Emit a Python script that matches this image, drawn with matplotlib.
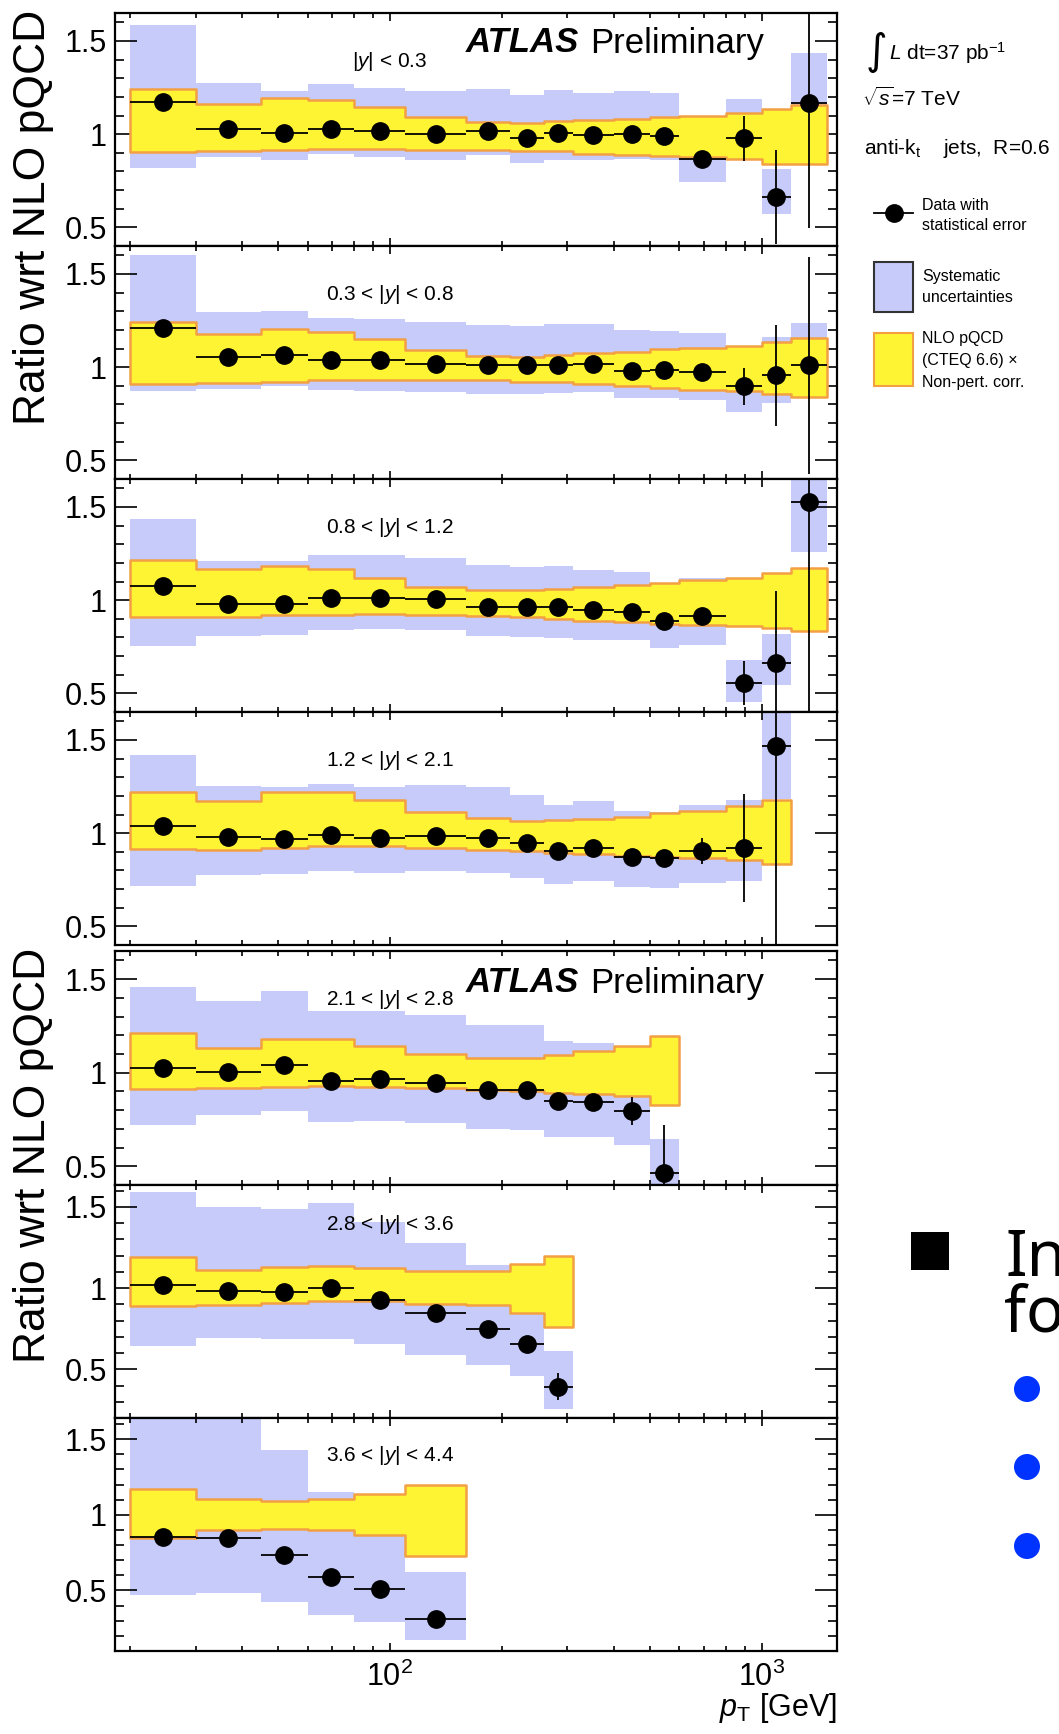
import numpy as np
import matplotlib
matplotlib.use('Agg')
import matplotlib.pyplot as plt
from matplotlib.patches import Rectangle, Ellipse
from matplotlib.ticker import FixedLocator, FixedFormatter, MultipleLocator, NullFormatter, LogLocator

plt.rcParams['font.family'] = ['Liberation Sans', 'DejaVu Sans']
plt.rcParams['mathtext.fontset'] = 'custom'
plt.rcParams['mathtext.rm'] = 'Liberation Sans'
plt.rcParams['mathtext.it'] = 'Liberation Sans:italic'
plt.rcParams['mathtext.bf'] = 'Liberation Sans:bold'

# pT bin edges [GeV]
edges = [20, 30, 45, 60, 80, 110, 160, 210, 260, 310, 400, 500, 600, 800, 1000, 1200, 1500]

labels = ['|$y$| < 0.3', '0.3 < |$y$| < 0.8', '0.8 < |$y$| < 1.2', '1.2 < |$y$| < 2.1',
          '2.1 < |$y$| < 2.8', '2.8 < |$y$| < 3.6', '3.6 < |$y$| < 4.4']

# |y| < 0.3
ratio_1 = [1.17, 1.03, 1.005, 1.03, 1.018, 1.0, 1.018, 0.982, 1.005, 0.995, 1.0, 0.991, 0.866, 0.977, 0.663, 1.165]
stat_1 = [0.01] * 11 + [0.015, 0.02, 0.12, 0.25, 0.67]
sys_lo_1 = [0.821, 0.875, 0.86, 0.892, 0.875, 0.862, 0.887, 0.844, 0.862, 0.86, 0.866, 0.86, 0.744, 0.88, 0.57, 0.9]
sys_hi_1 = [1.588, 1.272, 1.233, 1.269, 1.246, 1.233, 1.242, 1.21, 1.237, 1.219, 1.233, 1.219, 0.99, 1.19, 0.812, 1.435]
nlo_lo_1 = [0.905, 0.91, 0.916, 0.919, 0.923, 0.916, 0.916, 0.91, 0.907, 0.896, 0.889, 0.884, 0.875, 0.866, 0.842, 0.839]
nlo_hi_1 = [1.242, 1.161, 1.194, 1.185, 1.147, 1.09, 1.063, 1.061, 1.068, 1.077, 1.081, 1.09, 1.099, 1.116, 1.134, 1.158]

# 0.3 < |y| < 0.8
ratio_2 = [1.208, 1.053, 1.066, 1.039, 1.039, 1.018, 1.012, 1.009, 1.012, 1.016, 0.982, 0.986, 0.973, 0.897, 0.956, 1.009]
stat_2 = [0.01] * 12 + [0.02, 0.1, 0.27, 0.58]
sys_lo_2 = [0.87, 0.883, 0.897, 0.875, 0.87, 0.865, 0.856, 0.856, 0.861, 0.865, 0.835, 0.835, 0.826, 0.76, 0.808, 0.85]
sys_hi_2 = [1.6, 1.294, 1.30, 1.262, 1.256, 1.24, 1.226, 1.221, 1.231, 1.231, 1.2, 1.194, 1.181, 1.03, 1.164, 1.235]
nlo_lo_2 = [0.909, 0.915, 0.923, 0.929, 0.932, 0.932, 0.929, 0.923, 0.92, 0.911, 0.9, 0.888, 0.879, 0.874, 0.858, 0.84]
nlo_hi_2 = [1.24, 1.176, 1.205, 1.187, 1.149, 1.093, 1.062, 1.057, 1.066, 1.075, 1.084, 1.096, 1.105, 1.114, 1.137, 1.155]

# 0.8 < |y| < 1.2
ratio_3 = [1.077, 0.982, 0.982, 1.009, 1.009, 1.005, 0.964, 0.961, 0.964, 0.948, 0.938, 0.889, 0.916, 0.556, 0.661, 1.526]
stat_3 = [0.01] * 11 + [0.02, 0.02, 0.12, 0.39, 1.2]
sys_lo_3 = [0.756, 0.806, 0.815, 0.841, 0.845, 0.84, 0.806, 0.8, 0.797, 0.788, 0.788, 0.743, 0.761, 0.456, 0.547, 1.26]
sys_hi_3 = [1.433, 1.21, 1.21, 1.242, 1.242, 1.228, 1.189, 1.178, 1.184, 1.16, 1.152, 1.03, 1.121, 0.681, 0.818, 1.7]
nlo_lo_3 = [0.911, 0.911, 0.92, 0.922, 0.925, 0.922, 0.913, 0.907, 0.898, 0.889, 0.884, 0.872, 0.868, 0.859, 0.848, 0.836]
nlo_hi_3 = [1.216, 1.166, 1.184, 1.166, 1.121, 1.068, 1.055, 1.055, 1.062, 1.068, 1.08, 1.094, 1.109, 1.121, 1.148, 1.171]

# 1.2 < |y| < 2.1
ratio_4 = [1.036, 0.977, 0.97, 0.988, 0.973, 0.986, 0.973, 0.946, 0.902, 0.92, 0.871, 0.866, 0.902, 0.92, 1.47]
stat_4 = [0.01] * 12 + [0.07, 0.29, 1.1]
sys_lo_4 = [0.714, 0.777, 0.782, 0.795, 0.786, 0.795, 0.786, 0.759, 0.729, 0.741, 0.709, 0.705, 0.732, 0.745, 1.182]
sys_hi_4 = [1.42, 1.254, 1.245, 1.264, 1.245, 1.259, 1.245, 1.205, 1.152, 1.173, 1.12, 1.116, 1.152, 1.179, 1.7]
nlo_lo_4 = [0.914, 0.911, 0.923, 0.929, 0.929, 0.92, 0.907, 0.902, 0.893, 0.888, 0.879, 0.871, 0.866, 0.857, 0.834]
nlo_hi_4 = [1.223, 1.175, 1.223, 1.22, 1.179, 1.116, 1.08, 1.066, 1.071, 1.075, 1.089, 1.107, 1.12, 1.146, 1.179]

# 2.1 < |y| < 2.8
ratio_5 = [1.027, 1.005, 1.041, 0.955, 0.968, 0.946, 0.907, 0.907, 0.848, 0.844, 0.794, 0.463]
stat_5 = [0.01] * 10 + [0.075, 0.26]
sys_lo_5 = [0.723, 0.773, 0.794, 0.735, 0.741, 0.732, 0.701, 0.696, 0.657, 0.657, 0.615, 0.3]
sys_hi_5 = [1.46, 1.385, 1.435, 1.331, 1.331, 1.308, 1.254, 1.254, 1.17, 1.161, 1.0, 0.646]
nlo_lo_5 = [0.911, 0.916, 0.923, 0.928, 0.923, 0.916, 0.907, 0.902, 0.889, 0.884, 0.875, 0.825]
nlo_hi_5 = [1.211, 1.134, 1.182, 1.182, 1.143, 1.098, 1.08, 1.08, 1.095, 1.116, 1.143, 1.197]

# 2.8 < |y| < 3.6
ratio_6 = [1.017, 0.985, 0.979, 1.0, 0.927, 0.844, 0.751, 0.658, 0.394]
stat_6 = [0.01] * 8 + [0.085]
sys_lo_6 = [0.643, 0.695, 0.689, 0.689, 0.654, 0.591, 0.529, 0.461, 0.257]
sys_hi_6 = [1.591, 1.502, 1.488, 1.523, 1.409, 1.276, 1.145, 0.86, 0.61]
nlo_lo_6 = [0.892, 0.896, 0.911, 0.921, 0.923, 0.902, 0.896, 0.849, 0.761]
nlo_hi_6 = [1.191, 1.11, 1.131, 1.139, 1.124, 1.104, 1.104, 1.149, 1.197]

# 3.6 < |y| < 4.4
ratio_7 = [0.852, 0.848, 0.736, 0.591, 0.512, 0.311]
stat_7 = [0.01] * 6
sys_lo_7 = [0.468, 0.483, 0.423, 0.34, 0.293, 0.172]
sys_hi_7 = [1.7, 1.7, 1.43, 1.15, 1.1, 0.62]
nlo_lo_7 = [0.848, 0.899, 0.904, 0.897, 0.864, 0.729]
nlo_hi_7 = [1.172, 1.105, 1.089, 1.105, 1.139, 1.2]

ylims = [(0.4, 1.65)] * 5 + [(0.2, 1.635), (0.1, 1.64)]

panels = [
    (ratio_1, stat_1, sys_lo_1, sys_hi_1, nlo_lo_1, nlo_hi_1),
    (ratio_2, stat_2, sys_lo_2, sys_hi_2, nlo_lo_2, nlo_hi_2),
    (ratio_3, stat_3, sys_lo_3, sys_hi_3, nlo_lo_3, nlo_hi_3),
    (ratio_4, stat_4, sys_lo_4, sys_hi_4, nlo_lo_4, nlo_hi_4),
    (ratio_5, stat_5, sys_lo_5, sys_hi_5, nlo_lo_5, nlo_hi_5),
    (ratio_6, stat_6, sys_lo_6, sys_hi_6, nlo_lo_6, nlo_hi_6),
    (ratio_7, stat_7, sys_lo_7, sys_hi_7, nlo_lo_7, nlo_hi_7),
]

BLUE = '#c6cbf9'
YELLOW = '#fff433'
ORANGE = '#f2a043'

W, H = 1059, 1734
fig = plt.figure(figsize=(W / 100, H / 100), dpi=100)

# panel frames in pixels (top, bottom)
left_px, right_px = 115, 837
panel_px = [(13, 246), (246, 479), (479, 712), (712, 945), (951, 1185), (1185, 1418), (1418, 1651)]

for i, (t, b) in enumerate(panel_px):
    ax = fig.add_axes([left_px / W, 1 - b / H, (right_px - left_px) / W, (b - t) / H])
    ratio, stat, slo, shi, nlo, nhi = [np.array(v, dtype=float) for v in panels[i]]
    n = len(ratio)
    e = np.array(edges[:n + 1], dtype=float)
    ctr = np.sqrt(e[:-1] * e[1:])

    ax.fill_between(e, np.append(slo, slo[-1]), np.append(shi, shi[-1]), step='post',
                    color=BLUE, lw=0, zorder=1)
    ax.fill_between(e, np.append(nlo, nlo[-1]), np.append(nhi, nhi[-1]), step='post',
                    facecolor=YELLOW, edgecolor=ORANGE, lw=1.8, zorder=2)
    ax.errorbar(ctr, ratio, yerr=stat, xerr=[ctr - e[:-1], e[1:] - ctr], fmt='o',
                color='black', ms=12.5, elinewidth=1.3, capsize=0, zorder=3)

    ax.set_xscale('log')
    ax.set_xlim(18.2, 1595)
    ax.set_ylim(*ylims[i])
    ax.yaxis.set_major_locator(FixedLocator([0.5, 1.0, 1.5]))
    ax.yaxis.set_major_formatter(FixedFormatter(['0.5', '1', '1.5']))
    ax.yaxis.set_minor_locator(MultipleLocator(0.1))
    ax.xaxis.set_minor_locator(LogLocator(base=10, subs=np.arange(2, 10)))
    ax.xaxis.set_minor_formatter(NullFormatter())
    ax.tick_params(which='both', direction='in', top=True, right=True, width=1.2)
    ax.tick_params(axis='y', which='major', length=16, labelsize=22, pad=6)
    ax.tick_params(axis='y', which='minor', length=6.5)
    ax.tick_params(axis='x', which='major', length=6, labelsize=22, pad=8)
    ax.tick_params(axis='x', which='minor', length=3.5)
    if i != len(panel_px) - 1:
        ax.tick_params(axis='x', labelbottom=False)
    for s in ax.spines.values():
        s.set_linewidth(1.6)
    ax.text(100, 1.39, labels[i], ha='center', va='center', fontsize=15, zorder=5)

# overlay in pixel coordinates for the free text and legend
ov = fig.add_axes([0, 0, 1, 1])
ov.set_xlim(0, W)
ov.set_ylim(H, 0)
ov.axis('off')

for yc in (217, 1155):
    ov.text(34, yc, 'Ratio wrt NLO pQCD', rotation=90, ha='center', va='center', fontsize=32)

for yc in (43, 983):
    ov.text(466, yc, 'ATLAS', fontsize=25, fontweight='bold', fontstyle='italic', va='center')
    ov.text(590, yc, 'Preliminary', fontsize=25, va='center')

ov.text(837, 1708, r'$p_{\rm T}$ [GeV]', ha='right', va='center', fontsize=22)

# legend / info block
ov.text(866, 52, '\u222b', fontsize=30, va='center', family=['DejaVu Sans'])
ov.text(889, 53, r'$L$ dt=37 pb$^{-1}$', fontsize=15, va='center')
ov.text(862, 98, r'$\sqrt{s}$=7 TeV', fontsize=15, va='center')
ov.text(864, 148, r'anti-k$_{\rm t}$    jets,  R=0.6', fontsize=15, va='center')

ov.plot([874, 913], [213, 213], color='black', lw=1.3)
ov.plot([893.5], [213], 'o', color='black', ms=12.5)
ov.text(922, 206, 'Data with', fontsize=11.5, va='center')
ov.text(922, 225, 'statistical error', fontsize=11.5, va='center')

ov.add_patch(Rectangle((874, 262), 39, 50, facecolor=BLUE, edgecolor='#333333', lw=1.5))
ov.text(922, 277, 'Systematic', fontsize=11.5, va='center')
ov.text(922, 297, 'uncertainties', fontsize=11.5, va='center')

ov.add_patch(Rectangle((874, 333), 39, 53, facecolor=YELLOW, edgecolor=ORANGE, lw=1.5))
ov.text(922, 338, 'NLO pQCD', fontsize=11.5, va='center')
ov.text(922, 360, '(CTEQ 6.6) \u00d7', fontsize=11.5, va='center')
ov.text(922, 382, 'Non-pert. corr.', fontsize=11.5, va='center')

# slide text cut at the right edge
ov.add_patch(Rectangle((911, 1232), 38, 38, facecolor='black', edgecolor='none'))
ov.text(1005, 1276, 'In', fontsize=46, family=['Noto Sans'], va='baseline')
ov.text(1004, 1332, 'fo', fontsize=46, family=['Noto Sans'], va='baseline')
for yc in (1389, 1467, 1546):
    ov.add_patch(Ellipse((1027, yc), 26, 26, facecolor='#0033ff', edgecolor='none'))

fig.savefig('out.png', dpi=100)
